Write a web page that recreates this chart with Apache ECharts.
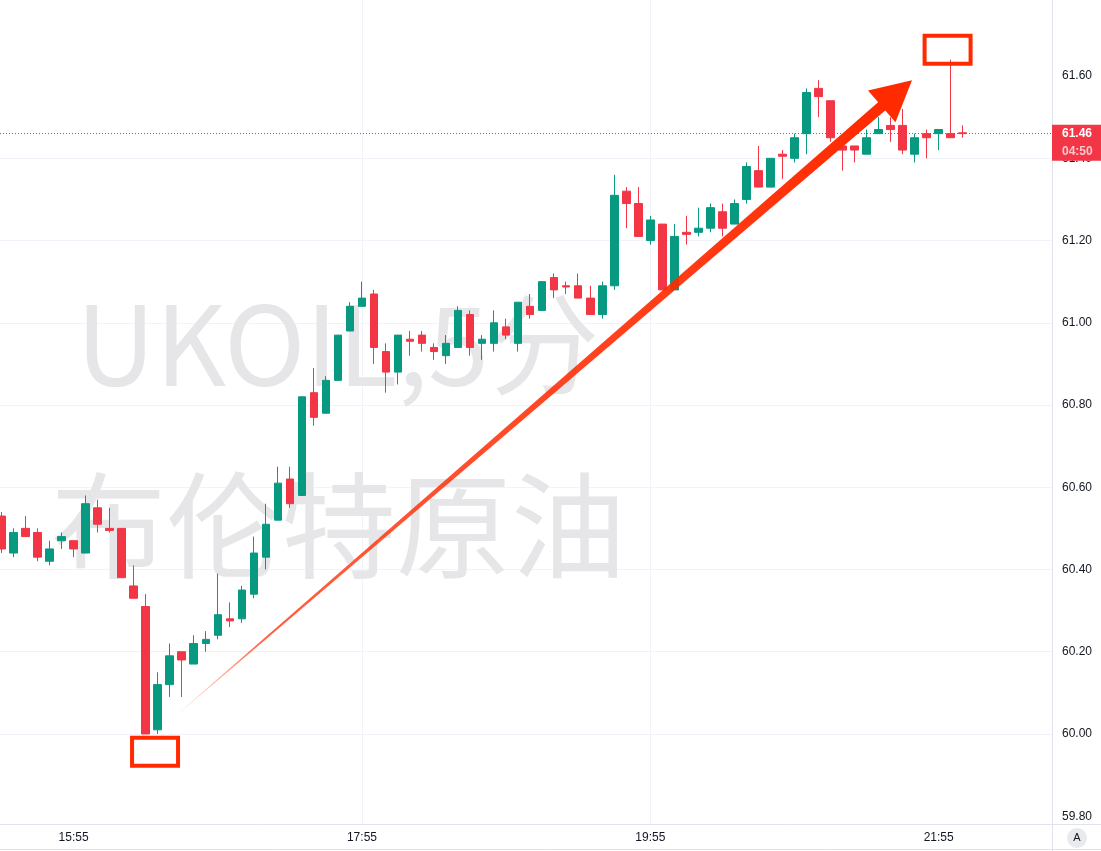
<!DOCTYPE html>
<html><head><meta charset="utf-8">
<script src="https://cdn.jsdelivr.net/npm/echarts@6/dist/echarts.min.js"></script>
<style>html,body{margin:0;padding:0;background:#fff}#c{width:1101px;height:851px}</style>
</head><body><div id="c"></div>
<script>
// ---- data ----
const times = ['15:25','15:30','15:35','15:40','15:45','15:50',
 '15:55','16:00','16:05','16:10','16:15','16:20','16:25','16:30','16:35','16:40','16:45','16:50',
 '16:55','17:00','17:05','17:10','17:15','17:20','17:25','17:30','17:35','17:40','17:45','17:50',
 '17:55','18:00','18:05','18:10','18:15','18:20','18:25','18:30','18:35','18:40','18:45','18:50',
 '18:55','19:00','19:05','19:10','19:15','19:20','19:25','19:30','19:35','19:40','19:45','19:50',
 '19:55','20:00','20:05','20:10','20:15','20:20','20:25','20:30','20:35','20:40','20:45','20:50',
 '20:55','21:00','21:05','21:10','21:15','21:20','21:25','21:30','21:35','21:40','21:45','21:50',
 '21:55','22:00','22:05'];
const opens = [60.53,60.44,60.50,60.49,60.42,60.47,60.47,60.44,60.55,60.50,
 60.50,60.36,60.31,60.01,60.12,60.20,60.17,60.22,60.24,60.28,
 60.28,60.34,60.43,60.52,60.62,60.58,60.83,60.78,60.86,60.98,
 61.04,61.07,60.93,60.88,60.96,60.97,60.94,60.92,60.94,61.02,
 60.95,60.95,60.99,60.95,61.04,61.03,61.11,61.09,61.09,61.06,
 61.02,61.09,61.32,61.29,61.20,61.24,61.08,61.22,61.22,61.23,
 61.27,61.24,61.30,61.37,61.33,61.41,61.40,61.46,61.57,61.54,
 61.43,61.43,61.41,61.46,61.48,61.48,61.41,61.46,61.46,61.46,61.462];
const closes = [60.45,60.49,60.48,60.43,60.45,60.48,60.45,60.56,60.51,60.495,
 60.38,60.33,60.00,60.12,60.19,60.18,60.22,60.23,60.29,60.275,
 60.35,60.44,60.51,60.61,60.56,60.82,60.77,60.86,60.97,61.04,
 61.06,60.94,60.88,60.97,60.955,60.95,60.93,60.95,61.03,60.94,
 60.96,61.00,60.97,61.05,61.02,61.10,61.08,61.087,61.06,61.02,
 61.09,61.31,61.29,61.21,61.25,61.08,61.21,61.215,61.23,61.28,
 61.23,61.29,61.38,61.33,61.40,61.405,61.45,61.56,61.55,61.45,
 61.42,61.42,61.45,61.47,61.47,61.42,61.45,61.45,61.47,61.45,61.46];
const lows = [60.44,60.43,60.48,60.42,60.41,60.45,60.43,60.44,60.49,60.49,
 60.38,60.33,60.00,60.00,60.09,60.09,60.17,60.20,60.23,60.26,
 60.27,60.33,60.40,60.52,60.55,60.58,60.75,60.78,60.86,60.98,
 61.04,60.90,60.83,60.85,60.92,60.93,60.91,60.90,60.94,60.92,
 60.91,60.93,60.96,60.93,61.01,61.03,61.06,61.07,61.06,61.02,
 61.01,61.08,61.23,61.21,61.19,61.08,61.08,61.19,61.21,61.22,
 61.21,61.24,61.29,61.33,61.33,61.35,61.39,61.41,61.50,61.44,
 61.37,61.39,61.41,61.46,61.44,61.41,61.39,61.40,61.42,61.45,61.45];
const highs = [60.54,60.50,60.53,60.50,60.47,60.49,60.47,60.58,60.57,60.55,
 60.50,60.41,60.34,60.15,60.22,60.20,60.24,60.25,60.39,60.32,
 60.36,60.48,60.56,60.65,60.65,60.82,60.89,60.87,60.97,61.05,
 61.10,61.08,60.95,60.97,60.98,60.98,60.95,60.97,61.04,61.03,
 60.97,61.03,61.01,61.05,61.07,61.10,61.12,61.10,61.12,61.09,
 61.10,61.36,61.33,61.33,61.26,61.24,61.24,61.26,61.28,61.29,
 61.29,61.30,61.39,61.43,61.40,61.42,61.46,61.57,61.59,61.54,
 61.44,61.43,61.47,61.50,61.50,61.52,61.46,61.47,61.47,61.64,61.48];
const xTickLabels = ['15:55','17:55','19:55','21:55'];
const yTicks = [59.80,60.00,60.20,60.40,60.60,60.80,61.00,61.20,61.40,61.60];
const lastPrice = 61.46;
const countdown = '04:50';
const watermarkLine1 = 'UKOIL,5分';
const watermarkLine2 = '布伦特原油';
// annotation anchors in data space [barIndex, price]
const lowBox = [12.78, 59.957];
const highBox = [78.74, 61.664];
const arrowFrom = [14.85, 60.053];
const arrowTo = [75.78, 61.59];

// ---- chart ----
const UP = '#089981', DOWN = '#f23645', ANN = '#ff2a00';
const FONT = '"Liberation Sans", Arial, sans-serif';
const xTickVals = xTickLabels.map(t => times.indexOf(t));
const candleData = times.map((t, i) => [i, opens[i], closes[i], lows[i], highs[i]]);

const chart = echarts.init(document.getElementById('c'), null, {renderer: 'canvas'});
chart.setOption({
  animation: false,
  backgroundColor: '#ffffff',
  grid: {left: 0, right: 49, top: 0, bottom: 27},
  xAxis: {
    type: 'value', min: -0.125, max: 87.43,
    axisLine: {show: true, onZero: false, lineStyle: {color: '#e0e3eb', width: 1}},
    axisTick: {show: false, customValues: xTickVals},
    axisLabel: {customValues: xTickVals, formatter: v => times[Math.round(v)],
      color: '#131722', fontSize: 12, fontFamily: FONT, margin: 8},
    splitLine: {show: true, showMinLine: false, showMaxLine: false, lineStyle: {color: '#f0f3fa', width: 1}}
  },
  yAxis: {
    type: 'value', position: 'right', min: 59.781, max: 61.785, scale: true,
    axisLine: {show: true, onZero: false, lineStyle: {color: '#e0e3eb', width: 1}},
    axisTick: {show: false, customValues: yTicks},
    axisLabel: {customValues: yTicks, formatter: v => v.toFixed(2),
      color: '#131722', fontSize: 12, fontFamily: FONT, margin: 10},
    splitLine: {show: true, showMinLine: false, showMaxLine: false, lineStyle: {color: '#f0f3fa', width: 1}}
  },
  series: [{
    type: 'candlestick',
    data: candleData,
    encode: {x: 0, y: [1, 2, 3, 4]},
    barWidth: 8,
    z: 5,
    itemStyle: {color: UP, color0: DOWN, borderColor: UP, borderColor0: DOWN, borderWidth: 1},
    markLine: {
      silent: true, symbol: ['none', 'none'], animation: false,
      label: {show: false},
      lineStyle: {color: DOWN, type: [1, 2], width: 1},
      data: [{yAxis: lastPrice}]
    }
  }]
});

const px = p => chart.convertToPixel({gridIndex: 0}, p);
const boxW = 46, boxH = 28;
const b1 = px(lowBox), b2 = px(highBox);
const s = px(arrowFrom), t = px(arrowTo);
const dx = t[0] - s[0], dy = t[1] - s[1], len = Math.hypot(dx, dy);
const ux = dx / len, uy = dy / len, nx = -uy, ny = ux;
const headLen = 40, headHalf = 21, shaftHalf = 5.5;
const bx = t[0] - ux * headLen, by = t[1] - uy * headLen;
const sx2 = bx + ux * 6, sy2 = by + uy * 6;
const priceY = px([0, lastPrice])[1];

chart.setOption({
  graphic: [
    {type: 'text', z: 1, x: 76, y: 344, silent: true,
     style: {text: watermarkLine1, font: '110px "Noto Sans CJK SC"', fill: '#e6e6e9',
       textAlign: 'left', textVerticalAlign: 'middle'}},
    {type: 'text', z: 1, x: 51, y: 525, silent: true,
     style: {text: watermarkLine2, font: '115px "Noto Sans CJK SC"', fill: '#e6e6e9',
       textAlign: 'left', textVerticalAlign: 'middle'}},
    // arrow shaft
    {type: 'polygon', z: 100, silent: true,
     shape: {points: [[s[0] + nx * 0.3, s[1] + ny * 0.3], [sx2 + nx * shaftHalf, sy2 + ny * shaftHalf],
                      [sx2 - nx * shaftHalf, sy2 - ny * shaftHalf], [s[0] - nx * 0.3, s[1] - ny * 0.3]]},
     style: {fill: {type: 'linear', global: true, x: s[0], y: s[1], x2: bx, y2: by,
       colorStops: [{offset: 0, color: 'rgba(255,42,0,0.05)'}, {offset: 0.12, color: 'rgba(255,42,0,0.75)'},
                    {offset: 1, color: ANN}]}}},
    // arrow head
    {type: 'polygon', z: 100, silent: true,
     shape: {points: [[t[0], t[1]], [bx + nx * headHalf, by + ny * headHalf], [bx - nx * headHalf, by - ny * headHalf]]},
     style: {fill: ANN}},
    // boxes
    {type: 'rect', z: 100, silent: true,
     shape: {x: b1[0] - boxW / 2, y: b1[1] - boxH / 2, width: boxW, height: boxH},
     style: {fill: 'none', stroke: ANN, lineWidth: 4}},
    {type: 'rect', z: 100, silent: true,
     shape: {x: b2[0] - boxW / 2, y: b2[1] - boxH / 2, width: boxW, height: boxH},
     style: {fill: 'none', stroke: ANN, lineWidth: 4}},
    // price tag
    {type: 'rect', z: 110, silent: true,
     shape: {x: 1052, y: priceY - 9, width: 49, height: 36},
     style: {fill: DOWN}},
    {type: 'text', z: 111, silent: true, x: 1062, y: priceY,
     style: {text: lastPrice.toFixed(2), font: 'bold 12px ' + FONT, fill: '#ffffff',
       textAlign: 'left', textVerticalAlign: 'middle'}},
    {type: 'text', z: 111, silent: true, x: 1062, y: priceY + 18,
     style: {text: countdown, font: 'bold 12px ' + FONT, fill: 'rgba(255,255,255,0.72)',
       textAlign: 'left', textVerticalAlign: 'middle'}},
    // frame lines
    {type: 'line', z: 50, silent: true, shape: {x1: 1052.5, y1: 824, x2: 1052.5, y2: 851},
     style: {stroke: '#e0e3eb', lineWidth: 1}},
    {type: 'line', z: 50, silent: true, shape: {x1: 1052, y1: 824.5, x2: 1101, y2: 824.5},
     style: {stroke: '#e0e3eb', lineWidth: 1}},
    {type: 'line', z: 50, silent: true, shape: {x1: 0, y1: 849.5, x2: 1101, y2: 849.5},
     style: {stroke: '#e0e3eb', lineWidth: 1}},
    // auto-scale button
    {type: 'circle', z: 50, silent: true, shape: {cx: 1077, cy: 838, r: 10},
     style: {fill: '#e9eaee'}},
    {type: 'text', z: 51, silent: true, x: 1077, y: 838,
     style: {text: 'A', font: '11px ' + FONT, fill: '#131722', textAlign: 'center', textVerticalAlign: 'middle'}}
  ]
});
</script>
</body></html>
